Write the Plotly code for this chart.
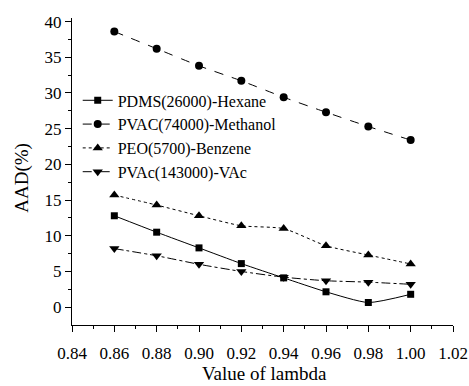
import plotly.graph_objects as go

lam = [0.86, 0.88, 0.90, 0.92, 0.94, 0.96, 0.98, 1.00]
pdms_hexane = [12.8, 10.5, 8.3, 6.1, 4.1, 2.15, 0.65, 1.8]
pvac_methanol = [38.6, 36.2, 33.8, 31.7, 29.4, 27.3, 25.3, 23.4]
peo_benzene = [15.7, 14.3, 12.8, 11.4, 11.0, 8.6, 7.3, 6.05]
pvac_vac = [8.2, 7.2, 6.0, 5.0, 4.2, 3.7, 3.5, 3.2]

names = ["PDMS(26000)-Hexane", "PVAC(74000)-Methanol", "PEO(5700)-Benzene", "PVAc(143000)-VAc"]
series = [pdms_hexane, pvac_methanol, peo_benzene, pvac_vac]
dashes = ["solid", "dash", "dot", "dashdot"]
symbols = ["square", "circle", "triangle-up", "triangle-down"]
sizes = [7, 8, 9, 9]

x_title = "Value of lambda"
y_title = "AAD(%)"

fig = go.Figure()
for n, s, d, sym, sz in zip(names, series, dashes, symbols, sizes):
    fig.add_trace(go.Scatter(
        x=lam, y=s, name=n, mode="lines+markers",
        line=dict(color="black", width=1, dash=d, shape="spline", smoothing=0.6),
        marker=dict(symbol=sym, size=sz, color="black"),
    ))

font = "Liberation Serif, Times New Roman, serif"
fig.update_layout(
    width=469, height=386,
    margin=dict(l=72, r=16, t=18, b=61),
    plot_bgcolor="white", paper_bgcolor="white",
    font=dict(family=font, color="black", size=16),
    showlegend=True,
    legend=dict(x=0.015, y=0.787, xanchor="left", yanchor="top",
                bgcolor="rgba(0,0,0,0)", font=dict(size=16, family=font),
                tracegroupgap=0, itemwidth=30),
    xaxis=dict(range=[0.84, 1.02], dtick=0.02, tickformat=".2f", automargin=False,
               showline=True, linecolor="black", linewidth=1,
               ticks="outside", ticklen=6, tickcolor="black", ticklabelstandoff=7,
               minor=dict(ticks="outside", dtick=0.01, ticklen=3, tickcolor="black"),
               showgrid=False, zeroline=False,
               tickfont=dict(size=17, family=font)),
    yaxis=dict(range=[-2.5, 40.5], tickvals=[0, 5, 10, 15, 20, 25, 30, 35, 40], automargin=False,
               showline=True, linecolor="black", linewidth=1,
               ticks="outside", ticklen=6, tickcolor="black",
               minor=dict(ticks="outside", tickvals=[2.5, 7.5, 12.5, 17.5, 22.5, 27.5, 32.5, 37.5], ticklen=3, tickcolor="black"),
               showgrid=False, zeroline=False,
               tickfont=dict(size=17, family=font)),
    annotations=[
        dict(text=x_title, xref="paper", yref="paper", x=0.504, y=-0.1564,
             xanchor="center", yanchor="middle", showarrow=False,
             font=dict(size=19, family=font, color="black")),
        dict(text=y_title, xref="paper", yref="paper", x=-0.131, y=0.48,
             xanchor="center", yanchor="middle", showarrow=False, textangle=-90,
             font=dict(size=19, family=font, color="black")),
    ],
)
fig.write_html("out.html", post_script="document.body.style.margin='0';",
               config={"displayModeBar": False})
